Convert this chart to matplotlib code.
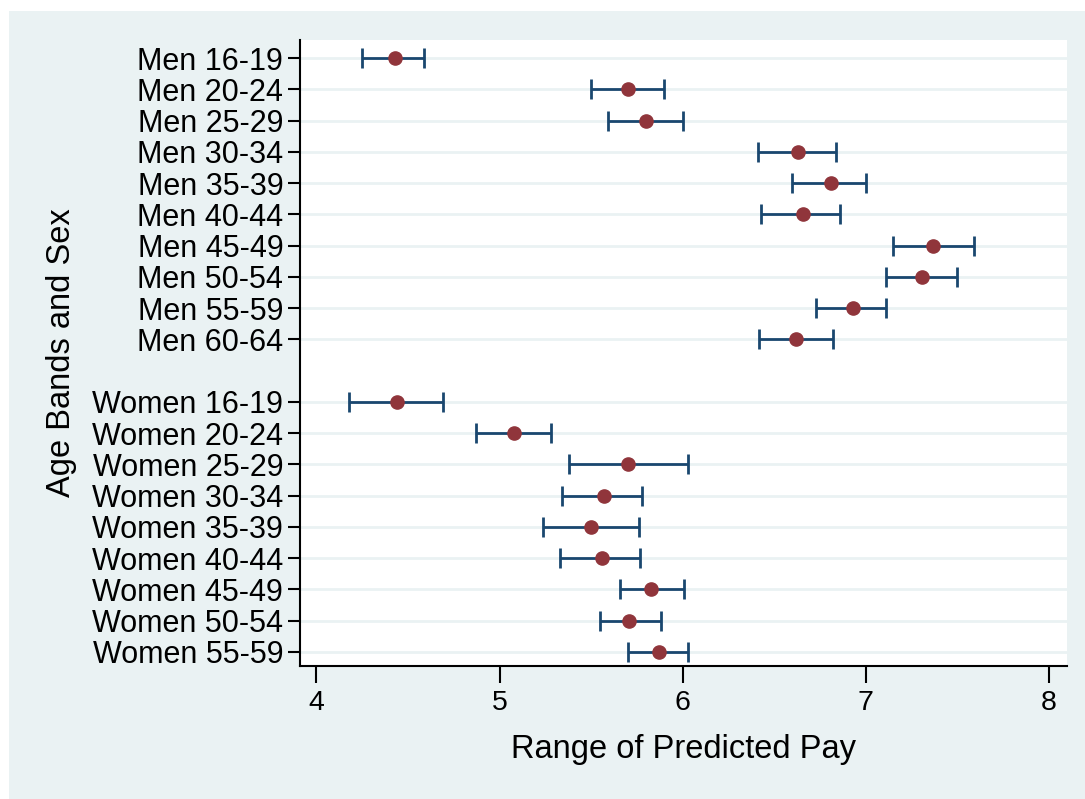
import matplotlib.pyplot as plt
from matplotlib.patches import Rectangle

plt.rcParams['font.family'] = ['Liberation Sans', 'DejaVu Sans']

# Categories, top to bottom
men_labels = ['Men 16-19', 'Men 20-24', 'Men 25-29', 'Men 30-34', 'Men 35-39',
              'Men 40-44', 'Men 45-49', 'Men 50-54', 'Men 55-59', 'Men 60-64']
women_labels = ['Women 16-19', 'Women 20-24', 'Women 25-29', 'Women 30-34', 'Women 35-39',
                'Women 40-44', 'Women 45-49', 'Women 50-54', 'Women 55-59']

# Point estimates and confidence bounds
men_est = [4.43, 5.70, 5.80, 6.63, 6.81, 6.66, 7.37, 7.31, 6.93, 6.62]
men_lo = [4.25, 5.50, 5.59, 6.41, 6.60, 6.43, 7.15, 7.11, 6.73, 6.42]
men_hi = [4.59, 5.90, 6.00, 6.84, 7.00, 6.86, 7.59, 7.50, 7.11, 6.82]

women_est = [4.44, 5.08, 5.70, 5.57, 5.50, 5.56, 5.83, 5.71, 5.87]
women_lo = [4.18, 4.87, 5.38, 5.34, 5.24, 5.33, 5.66, 5.55, 5.70]
women_hi = [4.69, 5.28, 6.03, 5.78, 5.76, 5.77, 6.01, 5.88, 6.03]

xticks = [4, 5, 6, 7, 8]

labels = men_labels + women_labels
est = men_est + women_est
lo = men_lo + women_lo
hi = men_hi + women_hi
# one empty row between the two groups
ypos = list(range(len(men_labels))) + [len(men_labels) + 1 + i for i in range(len(women_labels))]

bg = '#EAF2F3'
fig = plt.figure(figsize=(10.85, 7.99), dpi=100)
fig.patches.append(Rectangle((9 / 1085, 0), 1, 1 - 11 / 799, transform=fig.transFigure,
                             facecolor=bg, edgecolor='none', zorder=-10))
ax = fig.add_axes([300 / 1085, 1 - 666 / 799, 767 / 1085, 626 / 799])
ax.set_facecolor('white')

for y in ypos:
    ax.axhline(y, color=bg, lw=2, zorder=1)

xerr = [[e - l for e, l in zip(est, lo)], [h - e for e, h in zip(est, hi)]]
ax.errorbar(est, ypos, xerr=xerr, fmt='none', ecolor='#1A476F', elinewidth=2,
            capsize=7, capthick=2, zorder=2)
ax.plot(est, ypos, 'o', color='#90353B', markersize=9.5, zorder=3)

ax.set_xlim(3.91, 8.10)
ax.set_ylim(max(ypos) + 0.45, -0.58)
ax.set_xticks(xticks)
ax.set_xticklabels([str(t) for t in xticks])
ax.set_yticks(ypos)
ax.set_yticklabels(labels)
ax.tick_params(axis='y', length=9, width=1.5, labelsize=22, pad=3)
ax.tick_params(axis='x', length=12, width=1.5, labelsize=20.5, pad=5)

for s in ['top', 'right']:
    ax.spines[s].set_visible(False)
for s in ['left', 'bottom']:
    ax.spines[s].set_linewidth(1.5)

ax.set_xlabel('Range of Predicted Pay', fontsize=23.5, labelpad=13)
ax.set_ylabel('Age Bands and Sex', fontsize=23.5, labelpad=11)

fig.savefig('out.png', dpi=100)
